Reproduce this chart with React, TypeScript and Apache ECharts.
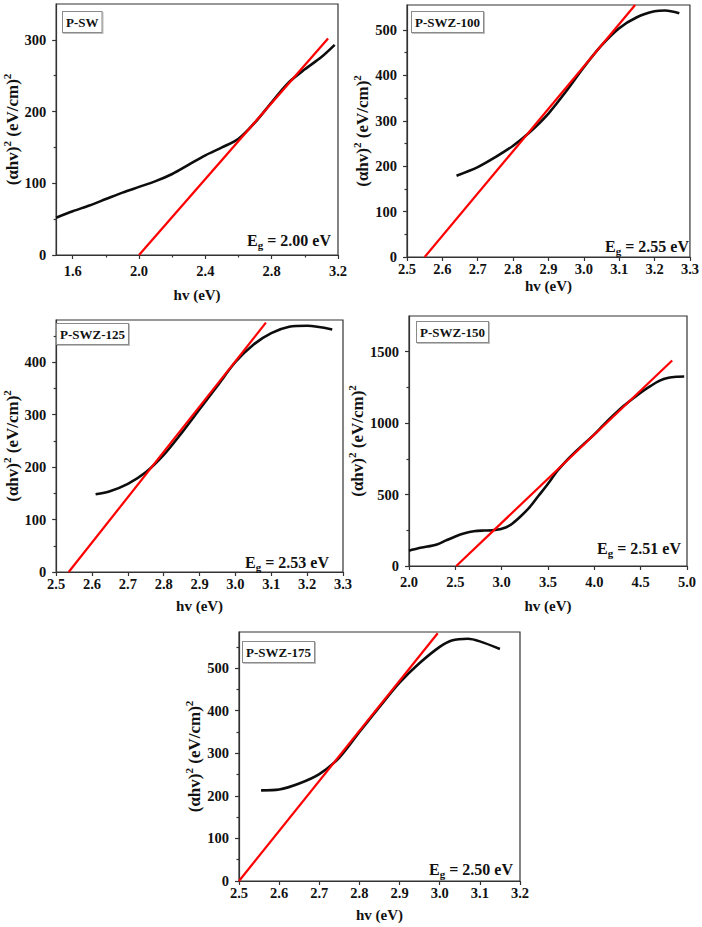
import React, { useEffect, useRef } from "react";
import * as echarts from "echarts";

const FONT = "'Liberation Serif', 'Times New Roman', serif";

// ---------- P-SW ----------
const swX = [1.5, 1.6, 1.7, 1.8, 1.9, 2.0, 2.1, 2.2, 2.3, 2.4, 2.5, 2.6, 2.7, 2.8, 2.9, 3.0, 3.1, 3.18];
const swY = [52, 61, 69, 78, 87, 95, 103, 113, 126, 139, 150, 162, 185, 213, 240, 259, 276, 293];
const swFitX = [2.0, 3.14];
const swFitY = [0, 302];
const swXTicks = [1.6, 2.0, 2.4, 2.8, 3.2];
const swXMinor = [1.8, 2.2, 2.6, 3.0];
const swYTicks = [0, 100, 200, 300];
const swYMinor = [50, 150, 250];

// ---------- P-SWZ-100 ----------
const z100X = [2.64, 2.7, 2.75, 2.8, 2.85, 2.9, 2.95, 3.0, 3.05, 3.1, 3.15, 3.2, 3.23, 3.27];
const z100Y = [179, 198, 220, 245, 277, 316, 365, 418, 466, 504, 528, 541, 543, 537];
const z100FitX = [2.55, 3.145];
const z100FitY = [0, 555];
const z100XTicks = [2.5, 2.6, 2.7, 2.8, 2.9, 3.0, 3.1, 3.2, 3.3];
const z100YTicks = [0, 100, 200, 300, 400, 500];
const z100YMinor = [50, 150, 250, 350, 450];

// ---------- P-SWZ-125 ----------
const z125X = [2.61, 2.65, 2.7, 2.75, 2.8, 2.85, 2.9, 2.95, 3.0, 3.05, 3.1, 3.15, 3.2, 3.27];
const z125Y = [148, 154, 168, 190, 223, 265, 310, 355, 400, 433, 455, 467, 469, 462];
const z125FitX = [2.535, 3.085];
const z125FitY = [0, 475];
const z125XTicks = [2.5, 2.6, 2.7, 2.8, 2.9, 3.0, 3.1, 3.2, 3.3];
const z125YTicks = [0, 100, 200, 300, 400];
const z125YMinor = [50, 150, 250, 350, 450];

// ---------- P-SWZ-150 ----------
const z150X = [2.0, 2.1, 2.2, 2.3, 2.4, 2.5, 2.6, 2.7, 2.8, 2.9, 3.0, 3.1, 3.2, 3.3, 3.4, 3.5, 3.6, 3.7, 3.8, 3.9, 4.0, 4.1, 4.2, 4.3, 4.4, 4.5, 4.6, 4.7, 4.8, 4.9, 4.97];
const z150Y = [107, 124, 136, 150, 179, 207, 229, 243, 248, 250, 260, 290, 345, 410, 493, 576, 665, 738, 802, 862, 921, 988, 1052, 1112, 1164, 1214, 1257, 1296, 1318, 1325, 1326];
const z150FitX = [2.51, 4.84];
const z150FitY = [0, 1438];
const z150XTicks = [2.0, 2.5, 3.0, 3.5, 4.0, 4.5, 5.0];
const z150YTicks = [0, 500, 1000, 1500];
const z150YMinor = [250, 750, 1250];

// ---------- P-SWZ-175 ----------
const z175X = [2.555, 2.6, 2.65, 2.7, 2.75, 2.8, 2.85, 2.9, 2.95, 3.0, 3.03, 3.07, 3.1, 3.15];
const z175Y = [213, 215, 229, 251, 290, 350, 409, 466, 512, 550, 565, 569, 563, 545];
const z175FitX = [2.5, 2.995];
const z175FitY = [0, 582];
const z175XTicks = [2.5, 2.6, 2.7, 2.8, 2.9, 3.0, 3.1, 3.2];
const z175YTicks = [0, 100, 200, 300, 400, 500];
const z175YMinor = [50, 150, 250, 350, 450, 550];

const panels = [
  {
    name: "P-SW", eg: "2.00",
    x: swX, y: swY, fx: swFitX, fy: swFitY,
    xMin: 1.5, xMax: 3.2, yMax: 350,
    xTicks: swXTicks, xMinor: swXMinor, yTicks: swYTicks, yMinor: swYMinor,
    grid: { left: 55, top: 4, width: 283, height: 251 },
    xMargin: 8, xGap: 32, yGap: 29,
    box: [63, 12], egPos: [331, 240],
  },
  {
    name: "P-SWZ-100", eg: "2.55",
    x: z100X, y: z100Y, fx: z100FitX, fy: z100FitY,
    xMin: 2.5, xMax: 3.3, yMax: 555,
    xTicks: z100XTicks, xMinor: [], yTicks: z100YTicks, yMinor: z100YMinor,
    grid: { left: 407, top: 5, width: 290, height: 252 },
    xMargin: 4, xGap: 21, yGap: 31,
    box: [412, 12], egPos: [689, 246],
  },
  {
    name: "P-SWZ-125", eg: "2.53",
    x: z125X, y: z125Y, fx: z125FitX, fy: z125FitY,
    xMin: 2.5, xMax: 3.3, yMax: 480,
    xTicks: z125XTicks, xMinor: [], yTicks: z125YTicks, yMinor: z125YMinor,
    grid: { left: 53, top: 320, width: 290, height: 252 },
    xMargin: 4, xGap: 26, yGap: 24,
    box: [57, 324], egPos: [329, 562],
  },
  {
    name: "P-SWZ-150", eg: "2.51",
    x: z150X, y: z150Y, fx: z150FitX, fy: z150FitY,
    xMin: 2.0, xMax: 5.0, yMax: 1750,
    xTicks: z150XTicks, xMinor: [], yTicks: z150YTicks, yMinor: z150YMinor,
    grid: { left: 409, top: 316, width: 278, height: 250 },
    xMargin: 8, xGap: 32, yGap: 28,
    box: [417, 322], egPos: [681, 548],
  },
  {
    name: "P-SWZ-175", eg: "2.50",
    x: z175X, y: z175Y, fx: z175FitX, fy: z175FitY,
    xMin: 2.5, xMax: 3.2, yMax: 585,
    xTicks: z175XTicks, xMinor: [], yTicks: z175YTicks, yMinor: z175YMinor,
    grid: { left: 239, top: 632, width: 281, height: 249 },
    xMargin: 4, xGap: 26, yGap: 28,
    box: [243, 642], egPos: [513, 869],
  },
];

const AXIS_COLOR = "#333";
const TEXT_COLOR = "#111";
const TICK_FONT = 14.5;

function buildOption() {
  const grids: any[] = [];
  const xAxes: any[] = [];
  const yAxes: any[] = [];
  const series: any[] = [];
  const graphics: any[] = [];

  panels.forEach((p, i) => {
    grids.push({
      ...p.grid,
      show: true,
      borderColor: AXIS_COLOR,
      borderWidth: 1.2,
      containLabel: false,
    });
    xAxes.push({
      type: "value",
      gridIndex: i,
      min: p.xMin,
      max: p.xMax,
      name: "hv (eV)",
      nameLocation: "middle",
      nameGap: p.xGap,
      nameTextStyle: { fontFamily: FONT, fontWeight: "bold", fontSize: 15, color: TEXT_COLOR },
      axisLine: { show: true, lineStyle: { color: AXIS_COLOR, width: 1.2 } },
      axisTick: { show: true, inside: false, length: 4, customValues: p.xTicks, lineStyle: { color: AXIS_COLOR, width: 1.2 } },
      axisLabel: {
        show: true,
        customValues: p.xTicks,
        margin: p.xMargin,
        fontFamily: FONT,
        fontWeight: "bold",
        fontSize: TICK_FONT,
        color: TEXT_COLOR,
        formatter: (v: number) => v.toFixed(1),
      },
      splitLine: { show: false },
    });
    yAxes.push({
      type: "value",
      gridIndex: i,
      min: 0,
      max: p.yMax,
      name: "{m|(αhv)}{s|2}{m| (eV/cm)}{s|2}",
      nameLocation: "middle",
      nameGap: p.yGap,
      nameRotate: 90,
      nameTextStyle: {
        color: TEXT_COLOR,
        rich: {
          m: { fontFamily: FONT, fontWeight: "bold", fontSize: 17, lineHeight: 22, color: TEXT_COLOR },
          s: { fontFamily: FONT, fontWeight: "bold", fontSize: 11, verticalAlign: "top", color: TEXT_COLOR },
        },
      },
      axisLine: { show: true, lineStyle: { color: AXIS_COLOR, width: 1.2 } },
      axisTick: { show: true, inside: false, length: 4, customValues: p.yTicks, lineStyle: { color: AXIS_COLOR, width: 1.2 } },
      axisLabel: {
        show: true,
        customValues: p.yTicks,
        margin: 10,
        fontFamily: FONT,
        fontWeight: "bold",
        fontSize: TICK_FONT,
        color: TEXT_COLOR,
        formatter: (v: number) => String(Math.round(v)),
      },
      splitLine: { show: false },
    });

    series.push({
      type: "line",
      xAxisIndex: i,
      yAxisIndex: i,
      data: p.x.map((xv, k) => [xv, p.y[k]]),
      smooth: 0.3,
      showSymbol: false,
      symbol: "none",
      lineStyle: { color: "#0d0d0d", width: 2.6 },
      z: 3,
    });
    series.push({
      type: "line",
      xAxisIndex: i,
      yAxisIndex: i,
      data: p.fx.map((xv, k) => [xv, p.fy[k]]),
      showSymbol: false,
      symbol: "none",
      lineStyle: { color: "#ff0000", width: 2.2 },
      z: 4,
    });

    graphics.push({
      type: "text",
      x: p.box[0],
      y: p.box[1],
      z: 10,
      style: {
        text: p.name,
        font: `bold 13px ${FONT}`,
        fill: TEXT_COLOR,
        backgroundColor: "#fff",
        borderColor: "#8a8a8a",
        borderWidth: 1,
        padding: [4, 3, 3, 3],
        shadowColor: "rgba(0,0,0,0.25)",
        shadowOffsetX: 1,
        shadowOffsetY: 1,
      },
    });
    graphics.push({
      type: "text",
      x: p.egPos[0],
      y: p.egPos[1],
      z: 10,
      style: {
        text: `{m|E}{s|g}{m| = ${p.eg} eV}`,
        align: "right",
        verticalAlign: "middle",
        rich: {
          m: { font: `bold 16px ${FONT}`, fill: TEXT_COLOR, lineHeight: 20 },
          s: { font: `bold 11px ${FONT}`, fill: TEXT_COLOR, verticalAlign: "bottom" },
        },
      },
    });
  });

  // minor tick overlay axes
  panels.forEach((p, i) => {
    xAxes.push({
      type: "value",
      gridIndex: i,
      min: p.xMin,
      max: p.xMax,
      position: "bottom",
      axisLine: { show: false },
      axisTick: { show: p.xMinor.length > 0, inside: false, length: 2.5, customValues: p.xMinor.length ? p.xMinor : [p.xMin], lineStyle: { color: AXIS_COLOR, width: 1.2 } },
      axisLabel: { show: false },
      splitLine: { show: false },
    });
    yAxes.push({
      type: "value",
      gridIndex: i,
      min: 0,
      max: p.yMax,
      position: "left",
      axisLine: { show: false },
      axisTick: { show: true, inside: false, length: 2.5, customValues: p.yMinor, lineStyle: { color: AXIS_COLOR, width: 1.2 } },
      axisLabel: { show: false },
      splitLine: { show: false },
    });
  });

  return {
    animation: false,
    backgroundColor: "#ffffff",
    grid: grids,
    xAxis: xAxes,
    yAxis: yAxes,
    series,
    graphic: graphics,
  };
}

export default function App() {
  const ref = useRef<HTMLDivElement>(null);
  useEffect(() => {
    document.body.style.margin = "0";
    if (!ref.current) return;
    const chart = echarts.init(ref.current, undefined, { renderer: "svg" });
    chart.setOption(buildOption());
    return () => chart.dispose();
  }, []);
  return <div ref={ref} style={{ width: 702, height: 927, background: "#fff" }} />;
}
